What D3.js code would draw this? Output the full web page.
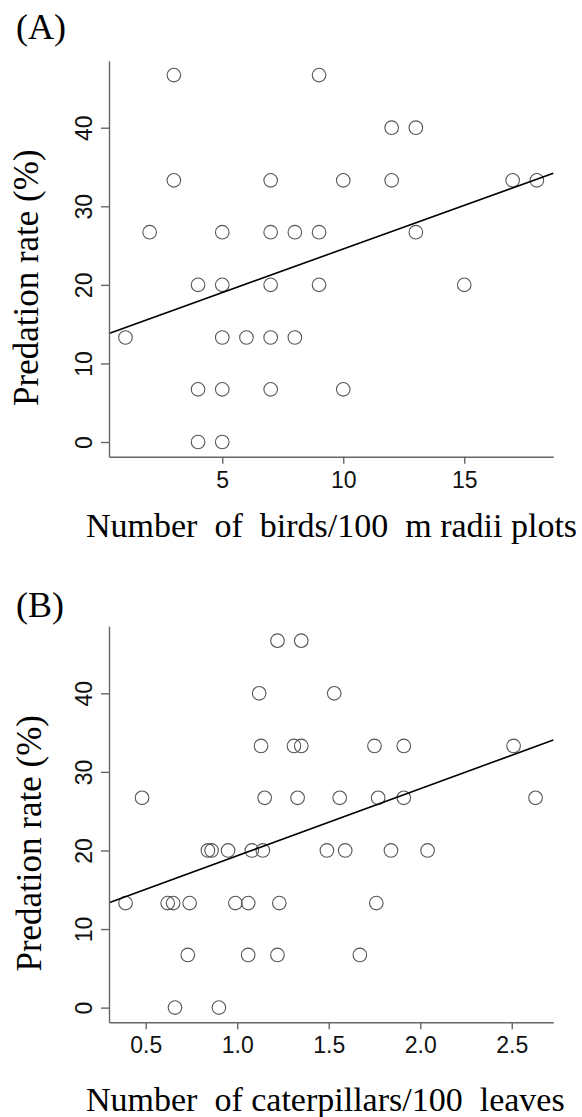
<!DOCTYPE html>
<html>
<head>
<meta charset="utf-8">
<script src="https://cdn.jsdelivr.net/npm/d3@7"></script>
<style>
  body { margin: 0; background: #fff; }
  svg { display: block; }
  .title { font-family: "Liberation Serif", "Times New Roman", serif; fill: #000; white-space: pre; }
  .tick text { font-family: "Liberation Sans", Arial, sans-serif; font-size: 23px; fill: #111; }
</style>
</head>
<body>
<div id="chart"></div>
<script>
// panel A: birds per plot vs predation rate
const birdCount = [3, 9, 12, 13, 3, 7, 10, 12, 17, 18, 2, 5, 7, 8, 9, 13,
                   4, 5, 7, 9, 15, 1, 5, 6, 7, 8, 4, 5, 7, 10, 4, 5];
const birdPred = [46.7, 46.7, 40, 40, 33.3, 33.3, 33.3, 33.3, 33.3, 33.3,
                  26.7, 26.7, 26.7, 26.7, 26.7, 26.7, 20, 20, 20, 20, 20,
                  13.3, 13.3, 13.3, 13.3, 13.3, 6.7, 6.7, 6.7, 6.7, 0, 0];
const birdFit = [13.47, 1.11]; // intercept, slope
const birdTicks = [5, 10, 15];

// panel B: caterpillars per 100 leaves vs predation rate
const catCount = [1.22, 1.35, 1.12, 1.53, 1.13, 1.31, 1.35, 1.75, 1.91, 2.51,
                  0.48, 1.15, 1.33, 1.56, 1.77, 1.91, 2.63,
                  0.84, 0.86, 0.95, 1.08, 1.14, 1.49, 1.59, 1.84, 2.04,
                  0.39, 0.62, 0.65, 0.74, 0.99, 1.06, 1.23, 1.76,
                  0.73, 1.06, 1.22, 1.67, 0.66, 0.90];
const catPred = [46.7, 46.7, 40, 40, 33.3, 33.3, 33.3, 33.3, 33.3, 33.3,
                 26.7, 26.7, 26.7, 26.7, 26.7, 26.7, 26.7,
                 20, 20, 20, 20, 20, 20, 20, 20, 20,
                 13.3, 13.3, 13.3, 13.3, 13.3, 13.3, 13.3, 13.3,
                 6.7, 6.7, 6.7, 6.7, 0, 0];
const catFit = [10.8, 8.53];
const catTicks = [0.5, 1.0, 1.5, 2.0, 2.5];

const predTicks = [0, 10, 20, 30, 40];

const width = 582, height = 1117;
const svg = d3.select("#chart").append("svg")
    .attr("width", width)
    .attr("height", height);

function drawPanel(opt) {
    const g = svg.append("g").attr("transform", "translate(0," + opt.top + ")");

    const x = d3.scaleLinear().domain(opt.xDomain).range([109, 553.3]);
    const y = d3.scaleLinear().domain([-1.87, 48.53]).range([396, 0]);

    // points
    g.selectAll("circle")
        .data(opt.xs)
        .enter()
        .append("circle")
            .attr("cx", (d) => x(d))
            .attr("cy", (d, i) => y(opt.ys[i]))
            .attr("r", 6.8)
            .style("fill", "none")
            .style("stroke", "#555")
            .style("stroke-width", 1.1);

    // fitted line
    const fit = (v) => opt.fit[0] + opt.fit[1] * v;
    g.append("line")
        .attr("x1", x(opt.xDomain[0]))
        .attr("y1", y(fit(opt.xDomain[0])))
        .attr("x2", x(opt.xDomain[1]))
        .attr("y2", y(fit(opt.xDomain[1])))
        .style("stroke", "#000")
        .style("stroke-width", 1.6);

    // axes
    const yAxis = g.append("g")
        .attr("transform", "translate(109,0)")
        .call(d3.axisLeft(y).tickValues(predTicks).tickSize(8).tickSizeOuter(0));
    yAxis.selectAll(".tick text")
        .attr("transform", "rotate(-90)")
        .attr("x", 0)
        .attr("y", -17)
        .attr("dy", 0)
        .attr("text-anchor", "middle");

    const xAxis = g.append("g")
        .attr("transform", "translate(0,396)")
        .call(d3.axisBottom(x).tickValues(opt.xTicks).tickFormat(opt.fmt).tickSize(7).tickSizeOuter(0));
    xAxis.selectAll(".tick text")
        .attr("y", 31)
        .attr("dy", 0);

    svg.selectAll(".domain, .tick line")
        .style("stroke", "#666")
        .style("stroke-width", 1.4);

    // labels
    g.append("text")
        .attr("class", "title")
        .attr("x", 16)
        .attr("y", opt.tagY)
        .style("font-size", "36px")
        .text(opt.tag);

    g.append("text")
        .attr("class", "title")
        .attr("transform", "translate(" + opt.ylabX + "," + opt.ylabY + ") rotate(-90)")
        .attr("text-anchor", "middle")
        .style("font-size", "35px")
        .text("Predation rate (%)");

    g.append("text")
        .attr("class", "title")
        .attr("x", 86)
        .attr("y", opt.xlabY)
        .style("font-size", "34px")
        .text(opt.xlab);
}

drawPanel({
    top: 60.7,
    xDomain: [0.32, 18.68],
    xs: birdCount, ys: birdPred, fit: birdFit,
    xTicks: birdTicks, fmt: d3.format("d"),
    tag: "(A)", tagY: -22,
    ylabX: 38, ylabY: 217,
    xlab: "Number  of  birds/100  m radii plots", xlabY: 476
});

drawPanel({
    top: 626.3,
    xDomain: [0.2995, 2.727],
    xs: catCount, ys: catPred, fit: catFit,
    xTicks: catTicks, fmt: d3.format(".1f"),
    tag: "(B)", tagY: -9,
    ylabX: 41, ylabY: 217,
    xlab: "Number  of caterpillars/100  leaves", xlabY: 485
});
</script>
</body>
</html>
